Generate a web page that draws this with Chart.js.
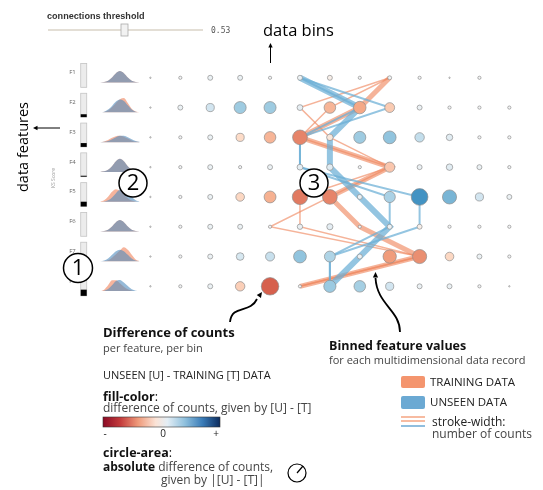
<!DOCTYPE html>
<html>
<head>
<meta charset="utf-8">
<script src="https://cdn.jsdelivr.net/npm/chart.js@4.4.1/dist/chart.umd.min.js"></script>
<style>
  html, body { margin: 0; padding: 0; background: #fff; overflow: hidden; }
</style>
</head>
<body>
<canvas id="chart" width="543" height="490" style="width:543px;height:490px"></canvas>
<script>
// ---- data ----
const features = ['F1', 'F2', 'F3', 'F4', 'F5', 'F6', 'F7', 'F8'];
const binIndex = [0, 1, 2, 3, 4, 5, 6, 7, 8, 9, 10, 11, 12];

// unseen count minus training count, per feature (row) and bin (column)
const countDiff = [
    [0, 1, 4, 4, 1, 4, -4, 1, 2, 1, 0, 1, null],
    [0, 4, 14, 35, 35, 6, -32, -38, -22, 4, 1, 1, 1],
    [0, 1, 4, -14, -32, -55, -8, 35, 40, 20, 8, 1, 1],
    [0, 1, 4, 1, 4, 6, 8, 1, -24, 4, 8, 4, 1],
    [0, 1, 4, -16, -34, -60, -55, 4, 30, 72, 50, 14, 4],
    [0, 1, 4, 4, 1, 5, 7, 1, 4, -4, 1, 1, 1],
    [0, 1, 4, 12, 18, 40, 28, 4, -44, -50, -16, 4, 1],
    [0, 1, 4, -20, -80, 1, 36, 32, 14, 4, 4, 1, 0]
];

// KS score per feature (0..1)
const ksScores = [0, 0.12, 0.16, 0.04, 0.2, 0, 0.08, 0.26];

// density curves per feature, relative height
const trainingDensity = [
    [0, 0.03, 0.12, 0.35, 0.65, 0.8, 0.65, 0.35, 0.12, 0.03, 0],
    [0, 0.03, 0.12, 0.35, 0.65, 0.92, 1.0, 0.65, 0.25, 0.06, 0],
    [0, 0.05, 0.15, 0.3, 0.42, 0.45, 0.38, 0.25, 0.12, 0.04, 0],
    [0, 0.04, 0.15, 0.4, 0.75, 0.92, 0.75, 0.4, 0.15, 0.04, 0],
    [0, 0.1, 0.35, 0.7, 0.88, 0.78, 0.5, 0.25, 0.08, 0.02, 0],
    [0, 0.03, 0.12, 0.35, 0.65, 0.8, 0.65, 0.35, 0.12, 0.03, 0],
    [0, 0.02, 0.08, 0.25, 0.5, 0.75, 0.98, 0.8, 0.45, 0.12, 0],
    [0, 0.1, 0.4, 0.75, 0.75, 0.55, 0.3, 0.12, 0.04, 0, 0]
];
const unseenDensity = [
    [0, 0.03, 0.12, 0.35, 0.65, 0.8, 0.65, 0.35, 0.12, 0.03, 0],
    [0, 0.05, 0.2, 0.45, 0.75, 0.9, 0.8, 0.5, 0.2, 0.05, 0],
    [0, 0.02, 0.08, 0.2, 0.35, 0.45, 0.45, 0.35, 0.2, 0.08, 0.02],
    [0, 0.04, 0.15, 0.4, 0.75, 0.92, 0.75, 0.4, 0.15, 0.04, 0],
    [0, 0.02, 0.1, 0.3, 0.6, 0.85, 0.9, 0.65, 0.35, 0.1, 0],
    [0, 0.03, 0.12, 0.35, 0.65, 0.8, 0.65, 0.35, 0.12, 0.03, 0],
    [0, 0.05, 0.2, 0.45, 0.7, 0.8, 0.7, 0.45, 0.2, 0.05, 0],
    [0, 0.03, 0.15, 0.4, 0.7, 0.78, 0.6, 0.35, 0.12, 0.03, 0]
];

// binned records: bin per feature F1..F8, count -> stroke width
const trainingRecords = [
    { bins: [8, 7, 5, 8, 6, 7, 9, 5], count: 5 },
    { bins: [8, 6, 5, 8, 5, 5, 9, 5], count: 1.5 },
    { bins: [8, 5, 6, 8, 6, 4, 9, 5], count: 1.5 }
];
const unseenRecords = [
    { bins: [5, 7, 6, 6, 7, 8, 7, 6], count: 6 },
    { bins: [5, 8, 5, 5, 8, 8, 6, 6], count: 2 },
    { bins: [5, 7, 5, 5, 9, 9, 6, 6], count: 2 }
];

// ---- layout ----
const W = 543, H = 490;
const X0 = 146, Y0 = 71, STEP = 31;       // pixel of bin 0 / F1, spacing
const DENS_LEFT = -1.68, DENS_RIGHT = -0.36;
const DENS_BASE = 0.16, DENS_H = 0.48;    // in row units
const KS_X = -2.23;

const FONT = '"Open Sans", "Noto Sans", sans-serif';
const ORANGE_LINE = 'rgba(239,138,98,0.65)';
const BLUE_LINE = 'rgba(107,174,214,0.72)';

const BLUE_STOPS = [[0, [245, 245, 245]], [0.2, [209, 229, 240]], [0.55, [146, 197, 222]], [1, [67, 147, 195]]];
const RED_STOPS = [[0, [245, 245, 245]], [0.2, [253, 219, 199]], [0.55, [244, 165, 130]], [1, [214, 96, 77]]];

function cellColor(d) {
    const t = Math.min(1, Math.abs(d) / 72);
    const stops = d >= 0 ? BLUE_STOPS : RED_STOPS;
    for (let i = 1; i < stops.length; i++) {
        if (t <= stops[i][0]) {
            const [t0, c0] = stops[i - 1], [t1, c1] = stops[i];
            const f = (t - t0) / (t1 - t0);
            const c = c0.map((v, k) => Math.round(v + (c1[k] - v) * f));
            return `rgb(${c[0]},${c[1]},${c[2]})`;
        }
    }
    return 'rgb(67,147,195)';
}

const radiusFor = (d) => 0.7 + 0.9 * Math.sqrt(Math.abs(d));

// ---- datasets ----
const cells = [];
countDiff.forEach((row, fi) => {
    row.forEach((d, bi) => {
        if (d === null) return;
        cells.push({ x: binIndex[bi], y: fi + 1, r: radiusFor(d), d });
    });
});

const datasets = [{
    type: 'bubble',
    data: cells,
    order: 0,
    backgroundColor: (ctx) => cellColor(ctx.raw ? ctx.raw.d : 0),
    borderColor: 'rgba(140,140,140,0.85)',
    borderWidth: 0.8
}];

function recordLine(rec, color, order) {
    return {
        type: 'line',
        data: rec.bins.map((b, i) => ({ x: b, y: i + 1 })),
        borderColor: color,
        borderWidth: rec.count,
        pointRadius: 0,
        tension: 0,
        fill: false,
        order
    };
}
unseenRecords.forEach(r => datasets.push(recordLine(r, BLUE_LINE, 1)));
trainingRecords.forEach(r => datasets.push(recordLine(r, ORANGE_LINE, 2)));

function densityLine(vals, fi, color, order) {
    const n = vals.length;
    const base = fi + 1 + DENS_BASE;
    return {
        type: 'line',
        data: vals.map((v, i) => ({
            x: DENS_LEFT + (DENS_RIGHT - DENS_LEFT) * i / (n - 1),
            y: base - v * DENS_H
        })),
        borderColor: 'rgba(0,0,0,0)',
        borderWidth: 1,
        pointRadius: 0,
        cubicInterpolationMode: 'monotone',
        backgroundColor: color,
        fill: { value: base },
        order
    };
}
features.forEach((f, fi) => {
    datasets.push(densityLine(unseenDensity[fi], fi, 'rgba(80,140,190,0.6)', 3));
    datasets.push(densityLine(trainingDensity[fi], fi, 'rgba(240,130,90,0.6)', 4));
});

// ---- drawing helpers ----
function txt(ctx, s, x, y, font, color, align) {
    ctx.font = font;
    ctx.fillStyle = color || '#000';
    ctx.textAlign = align || 'left';
    ctx.textBaseline = 'alphabetic';
    ctx.fillText(s, x, y);
}
function runs(ctx, parts, x, y) {
    parts.forEach(([s, font, color]) => {
        txt(ctx, s, x, y, font, color);
        x += ctx.measureText(s).width;
    });
}
function arrowHead(ctx, x, y, ang, size) {
    ctx.beginPath();
    ctx.moveTo(x, y);
    ctx.lineTo(x - size * Math.cos(ang - 0.45), y - size * Math.sin(ang - 0.45));
    ctx.lineTo(x - size * Math.cos(ang + 0.45), y - size * Math.sin(ang + 0.45));
    ctx.closePath();
    ctx.fill();
}
function badge(ctx, label, x, y, r) {
    ctx.beginPath();
    ctx.arc(x, y, r, 0, Math.PI * 2);
    ctx.fillStyle = '#fff';
    ctx.fill();
    ctx.lineWidth = 1.5;
    ctx.strokeStyle = '#000';
    ctx.stroke();
    ctx.font = `22px ${FONT}`;
    ctx.fillStyle = '#000';
    ctx.textAlign = 'center';
    ctx.textBaseline = 'middle';
    ctx.fillText(label, x, y + 1);
}

// KS bars and feature labels, drawn from the scales
const ksPlugin = {
    id: 'ksBars',
    beforeDatasetsDraw(chart) {
        const { ctx, scales: { x, y } } = chart;
        ctx.save();
        const bx = x.getPixelForValue(KS_X);
        features.forEach((f, fi) => {
            const top = y.getPixelForValue(fi + 1 - 0.48);
            const bot = y.getPixelForValue(fi + 1 + 0.32);
            ctx.fillStyle = '#ececec';
            ctx.strokeStyle = '#c4c4c4';
            ctx.lineWidth = 0.8;
            ctx.fillRect(bx - 3, top, 6, bot - top);
            ctx.strokeRect(bx - 3, top, 6, bot - top);
            const h = (bot - top) * ksScores[fi];
            ctx.fillStyle = '#000';
            ctx.fillRect(bx - 3, bot - h, 6, h);
            txt(ctx, f, bx - 8, y.getPixelForValue(fi + 1 - 0.12), `6px ${FONT}`, '#666', 'right');
        });
        ctx.restore();
    }
};

const notePlugin = {
    id: 'notes',
    afterDraw(chart) {
        const ctx = chart.ctx;
        ctx.save();

        // slider
        txt(ctx, 'connections threshold', 47, 18.5, 'bold 9.1px "Liberation Sans", Arial, sans-serif', '#333');
        ctx.strokeStyle = '#e3ded5';
        ctx.lineWidth = 2;
        ctx.beginPath(); ctx.moveTo(48, 30); ctx.lineTo(203, 30); ctx.stroke();
        ctx.fillStyle = '#f2f2f2';
        ctx.strokeStyle = '#aaa';
        ctx.lineWidth = 0.8;
        ctx.fillRect(121, 24, 7, 12);
        ctx.strokeRect(121, 24, 7, 12);
        txt(ctx, '0.53', 211, 33, '8px "DejaVu Sans Mono", monospace', '#555');

        // axis notes
        txt(ctx, 'data bins', 263, 36, `16.5px ${FONT}`, '#000');
        ctx.strokeStyle = '#000'; ctx.fillStyle = '#000'; ctx.lineWidth = 1;
        ctx.beginPath(); ctx.moveTo(270.5, 63); ctx.lineTo(270.5, 47); ctx.stroke();
        arrowHead(ctx, 270.5, 43, -Math.PI / 2, 5);

        ctx.save();
        ctx.translate(28, 147);
        ctx.rotate(-Math.PI / 2);
        txt(ctx, 'data features', 0, 0, `14.5px ${FONT}`, '#000', 'center');
        ctx.restore();
        ctx.beginPath(); ctx.moveTo(60, 128); ctx.lineTo(37, 128); ctx.stroke();
        arrowHead(ctx, 33, 128, Math.PI, 5);

        ctx.save();
        ctx.translate(55, 178);
        ctx.rotate(-Math.PI / 2);
        txt(ctx, 'KS Score', 0, 0, `5px ${FONT}`, '#999', 'center');
        ctx.restore();

        badge(ctx, '1', 78, 268, 14.5);
        badge(ctx, '2', 133, 183, 14);
        badge(ctx, '3', 314, 183, 14);

        // curved pointers
        ctx.strokeStyle = '#000'; ctx.fillStyle = '#000'; ctx.lineWidth = 1.8;
        ctx.beginPath();
        ctx.moveTo(230, 322);
        ctx.bezierCurveTo(232, 304, 250, 314, 257, 299);
        ctx.stroke();
        arrowHead(ctx, 262, 292, -0.95, 6);

        ctx.beginPath();
        ctx.moveTo(400, 332);
        ctx.bezierCurveTo(400, 310, 377, 305, 375.5, 278);
        ctx.stroke();
        arrowHead(ctx, 375.5, 272, -Math.PI / 2, 6);

        // left legend block
        txt(ctx, 'Difference of counts', 103, 337, `bold 13px ${FONT}`, '#111');
        txt(ctx, 'per feature, per bin', 103, 352, `11px ${FONT}`, '#444');
        txt(ctx, 'UNSEEN [U] - TRAINING [T] DATA', 103, 379, `11px ${FONT}`, '#222');
        runs(ctx, [['fill-color', `bold 12.5px ${FONT}`, '#111'], [':', `12.5px ${FONT}`, '#111']], 103, 401);
        txt(ctx, 'difference of counts, given by [U] - [T]', 103, 412, `12px ${FONT}`, '#444');

        const g = ctx.createLinearGradient(103, 0, 220, 0);
        g.addColorStop(0, '#8b0a25');
        g.addColorStop(0.15, '#c43c3c');
        g.addColorStop(0.3, '#ef9a7a');
        g.addColorStop(0.45, '#fbe3d6');
        g.addColorStop(0.55, '#e4eef5');
        g.addColorStop(0.7, '#8fc0dd');
        g.addColorStop(0.85, '#3a7cb8');
        g.addColorStop(1, '#0d2c5e');
        ctx.fillStyle = g;
        ctx.fillRect(103, 417, 117, 10);
        ctx.strokeStyle = '#333'; ctx.lineWidth = 0.6;
        ctx.strokeRect(103, 417, 117, 10);
        txt(ctx, '-', 105, 437, `10px ${FONT}`, '#222', 'center');
        txt(ctx, '0', 163, 437, `10px ${FONT}`, '#222', 'center');
        txt(ctx, '+', 216, 437, `10px ${FONT}`, '#222', 'center');

        runs(ctx, [['circle-area', `bold 12.5px ${FONT}`, '#111'], [':', `12.5px ${FONT}`, '#111']], 103, 457);
        runs(ctx, [['absolute', `bold 12px ${FONT}`, '#111'], [' difference of counts,', `12px ${FONT}`, '#444']], 103, 471);
        txt(ctx, 'given by |[U] - [T]|', 161, 484, `12px ${FONT}`, '#444');
        ctx.strokeStyle = '#000'; ctx.lineWidth = 1.2;
        ctx.beginPath(); ctx.arc(297, 473, 9, 0, Math.PI * 2); ctx.stroke();
        ctx.beginPath(); ctx.moveTo(297, 473); ctx.lineTo(303, 466); ctx.stroke();

        // right legend block
        txt(ctx, 'Binned feature values', 329, 350, `bold 12.5px ${FONT}`, '#111');
        txt(ctx, 'for each multidimensional data record', 329, 364, `11px ${FONT}`, '#444');
        ctx.fillStyle = '#f4956e';
        ctx.beginPath(); ctx.roundRect(401, 376, 24, 12, 2); ctx.fill();
        ctx.fillStyle = '#6ba9d3';
        ctx.beginPath(); ctx.roundRect(401, 396, 24, 13, 2); ctx.fill();
        txt(ctx, 'TRAINING DATA', 430, 386, `11.5px ${FONT}`, '#222');
        txt(ctx, 'UNSEEN DATA', 430, 406, `11.5px ${FONT}`, '#222');
        ctx.lineWidth = 1.5;
        ctx.strokeStyle = '#f4a582';
        ctx.beginPath(); ctx.moveTo(401, 417); ctx.lineTo(425, 417); ctx.stroke();
        ctx.beginPath(); ctx.moveTo(401, 421); ctx.lineTo(425, 421); ctx.stroke();
        ctx.strokeStyle = '#6ba9d3';
        ctx.beginPath(); ctx.moveTo(401, 426); ctx.lineTo(425, 426); ctx.stroke();
        txt(ctx, 'stroke-width:', 432, 426, `12px ${FONT}`, '#222');
        txt(ctx, 'number of counts', 432, 438, `12px ${FONT}`, '#444');

        ctx.restore();
    }
};

new Chart(document.getElementById('chart').getContext('2d'), {
    type: 'bubble',
    data: { datasets },
    options: {
        responsive: false,
        animation: false,
        events: [],
        layout: { padding: 0 },
        plugins: { legend: { display: false }, tooltip: { enabled: false } },
        scales: {
            x: { type: 'linear', display: false, min: -X0 / STEP, max: (W - X0) / STEP },
            y: { type: 'linear', display: false, reverse: true, min: 1 - Y0 / STEP, max: 1 + (H - Y0) / STEP }
        }
    },
    plugins: [ksPlugin, notePlugin]
});
</script>
</body>
</html>
